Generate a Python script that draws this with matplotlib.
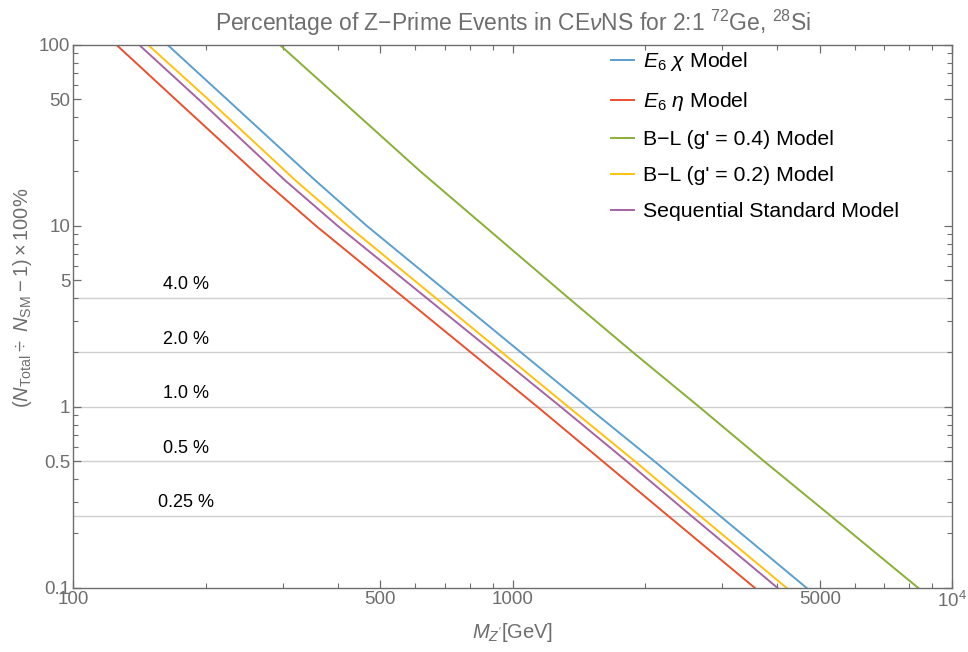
import matplotlib
matplotlib.use("Agg")
import matplotlib.pyplot as plt
from matplotlib.ticker import FixedLocator, NullFormatter

plt.rcParams['font.family'] = ['Liberation Sans', 'DejaVu Sans']
plt.rcParams['mathtext.fontset'] = 'custom'
plt.rcParams['mathtext.rm'] = 'Liberation Sans'
plt.rcParams['mathtext.it'] = 'Liberation Sans:italic'
plt.rcParams['mathtext.sf'] = 'Liberation Sans'

# values: Z' mass (GeV) vs percentage
chi_m = [164, 224, 355, 466, 1480, 2105, 2965, 4668]
chi_p = [100, 50, 17.9, 10, 1, 0.5, 0.25, 0.1]

eta_m = [125.5, 171, 271, 357, 1140, 1605, 2260, 3559]
eta_p = [100, 50, 17.9, 10, 1, 0.5, 0.25, 0.1]

bl4_m = [295.4, 617, 1340, 1880, 2660, 3740, 5300, 8378]
bl4_p = [100, 20, 4, 2, 1, 0.5, 0.25, 0.1]

bl2_m = [148.1, 203, 320, 422, 1340, 1900, 2670, 4204]
bl2_p = [100, 50, 17.9, 10, 1, 0.5, 0.25, 0.1]

ssm_m = [141.3, 193, 303, 400, 1288, 1820, 2552, 4010]
ssm_p = [100, 50, 17.9, 10, 1, 0.5, 0.25, 0.1]

ref_levels = [4.0, 2.0, 1.0, 0.5, 0.25]
ref_labels = ['4.0 %', '2.0 %', '1.0 %', '0.5 %', '0.25 %']

gray = '#6e6e6e'

fig = plt.figure(figsize=(9.68, 6.52), dpi=100)
ax = fig.add_axes([0.0757, 0.0982, 0.9078, 0.8328])

for lv, lb in zip(ref_levels, ref_labels):
    ax.axhline(lv, color='#cfcfcf', lw=1.0, zorder=1)
    ax.text(181, lv * 1.06, lb, ha='center', va='bottom', fontsize=13, color='black')

ax.plot(chi_m, chi_p, color='#5a9fd0', lw=1.4, label=r'$E_6\ \chi$ Model')
ax.plot(eta_m, eta_p, color='#e8502e', lw=1.4, label=r'$E_6\ \eta$ Model')
ax.plot(bl4_m, bl4_p, color='#8aaf36', lw=1.4, label="B\u2212L (g' = 0.4) Model")
ax.plot(bl2_m, bl2_p, color='#ffc20e', lw=1.4, label="B\u2212L (g' = 0.2) Model")
ax.plot(ssm_m, ssm_p, color='#a463a6', lw=1.4, label='Sequential Standard Model')

ax.set_xscale('log')
ax.set_yscale('log')
ax.set_xlim(100, 10000)
ax.set_ylim(0.1, 100)

ax.xaxis.set_major_locator(FixedLocator([100, 500, 1000, 5000, 10000]))
ax.set_xticklabels(['100', '500', '1000', '5000', r'$10^4$'])
ax.xaxis.set_minor_locator(FixedLocator([200, 300, 400, 600, 700, 800, 900,
                                         2000, 3000, 4000, 6000, 7000, 8000, 9000]))
ax.xaxis.set_minor_formatter(NullFormatter())
ax.yaxis.set_major_locator(FixedLocator([0.1, 0.5, 1, 5, 10, 50, 100]))
ax.set_yticklabels(['0.1', '0.5', '1', '5', '10', '50', '100'])
ax.yaxis.set_minor_locator(FixedLocator([0.2, 0.3, 0.4, 0.6, 0.7, 0.8, 0.9,
                                         2, 3, 4, 6, 7, 8, 9, 20, 30, 40, 60, 70, 80, 90]))
ax.yaxis.set_minor_formatter(NullFormatter())

ax.tick_params(which='both', direction='in', top=True, right=True, colors=gray,
               labelsize=13.5, labelcolor=gray)
ax.tick_params(axis='x', which='both', pad=2)
ax.tick_params(axis='y', which='both', pad=2)
ax.tick_params(which='major', length=6, width=0.9)
ax.tick_params(which='minor', length=3.5, width=0.8)
for s in ax.spines.values():
    s.set_color(gray)
    s.set_linewidth(1.0)

ax.set_title(r"Percentage of Z$-$Prime Events in CE$\nu$NS for 2:1 $^{72}$Ge, $^{28}$Si",
             fontsize=16.5, color=gray, pad=10)
ax.set_xlabel(r"$M_{Z'}$[GeV]", fontsize=14.5, color=gray, labelpad=7)
ax.set_ylabel(r"$(N_{\rm Total}\div\ N_{\rm SM}-1)\times100\%$", fontsize=14.5,
              color=gray)
ax.yaxis.set_label_coords(-0.045, 0.535)

leg = ax.legend(loc='upper left', bbox_to_anchor=(0.612, 0.99), frameon=False,
                fontsize=15.3, handlelength=1.1, labelspacing=0.8, handletextpad=0.4,
                borderpad=0, borderaxespad=0)

fig.savefig('out.png', dpi=100)
